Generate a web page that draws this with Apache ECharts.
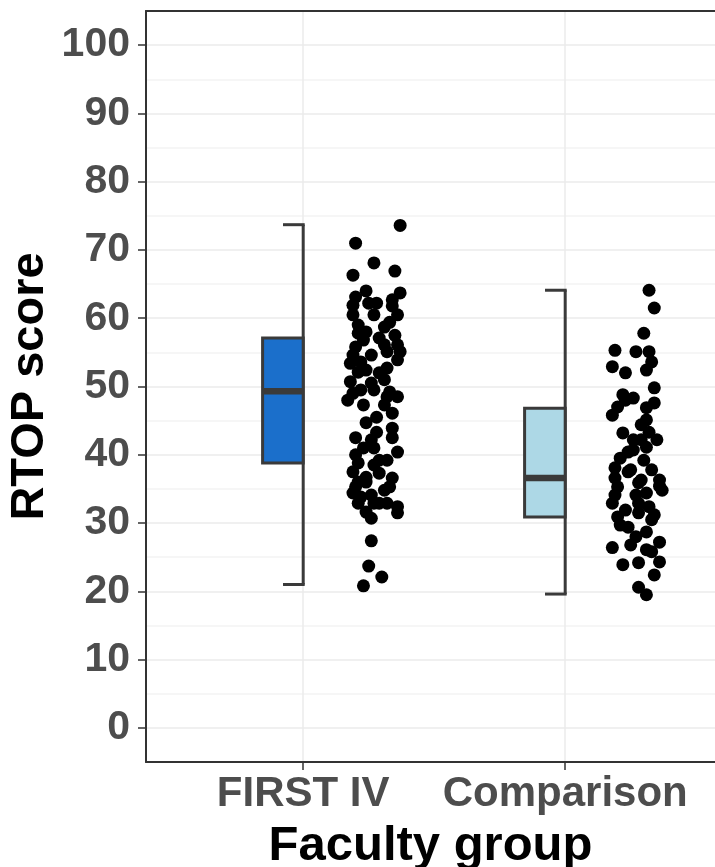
<!DOCTYPE html>
<html>
<head>
<meta charset="utf-8">
<script src="https://cdn.jsdelivr.net/npm/echarts@6/dist/echarts.min.js"></script>
<style>
  html, body { margin: 0; padding: 0; background: #fff; }
  #main { width: 715px; height: 867px; }
</style>
</head>
<body>
<div id="main"></div>
<script>
// groups on the x axis (positions 1 and 2)
const categories = ['FIRST IV', 'Comparison']

// half box + whisker stats per group
const whiskerLow = [21.0, 19.6]
const q1 = [38.8, 30.9]
const median = [49.3, 36.6]
const q3 = [57.1, 46.8]
const whiskerHigh = [73.7, 64.1]

// jittered points: x position and RTOP score
const firstIvX = [1.37, 1.20, 1.27, 1.19, 1.35, 1.20, 1.24, 1.28, 1.34, 1.37,
  1.19, 1.34, 1.19, 1.27, 1.36, 1.33, 1.21, 1.31, 1.21, 1.24,
  1.29, 1.36, 1.20, 1.37, 1.19, 1.22, 1.36, 1.18, 1.32, 1.21,
  1.29, 1.18, 1.26, 1.31, 1.22, 1.27, 1.33, 1.36, 1.19, 1.31,
  1.34, 1.28, 1.24, 1.34, 1.28, 1.20, 1.26, 1.34, 1.27, 1.36,
  1.20, 1.32, 1.21, 1.27, 1.19, 1.24, 1.29, 1.34, 1.20, 1.33,
  1.21, 1.24, 1.19, 1.26, 1.21, 1.29, 1.36, 1.24, 1.36, 1.26,
  1.26, 1.25, 1.30, 1.23, 1.23, 1.25, 1.31, 1.23, 1.32, 1.23,
  1.31, 1.22, 1.27, 1.32, 1.26, 1.24, 1.35, 1.32, 1.17, 1.29]
const firstIvScores = [73.6, 71.0, 68.1, 66.3, 66.9, 63.1, 64.0, 62.2, 62.7, 63.7,
  61.9, 61.8, 60.5, 60.5, 60.5, 59.4, 59.0, 58.7, 57.8, 58.0,
  57.1, 56.1, 55.8, 55.1, 54.6, 53.6, 53.9, 53.4, 52.7, 52.1,
  52.0, 50.7, 50.5, 51.0, 49.5, 49.5, 49.2, 48.5, 49.0, 47.3,
  46.1, 45.5, 44.7, 43.9, 43.3, 42.5, 42.2, 42.5, 41.0, 40.4,
  40.0, 39.2, 38.8, 38.5, 37.5, 36.7, 37.3, 36.6, 35.3, 35.3,
  36.0, 36.0, 34.4, 34.1, 32.9, 32.9, 32.4, 31.6, 31.5, 30.7,
  27.4, 23.7, 22.1, 20.8, 56.8, 62.2, 56.1, 47.3, 48.5, 41.0,
  34.8, 33.8, 32.9, 32.9, 54.6, 52.4, 57.5, 55.1, 48.0, 39.2]

const comparisonX = [2.32, 2.34, 2.30, 2.19, 2.27, 2.32, 2.33, 2.18, 2.23, 2.31,
  2.34, 2.22, 2.26, 2.20, 2.34, 2.31, 2.18, 2.31, 2.22, 2.32,
  2.26, 2.35, 2.31, 2.26, 2.24, 2.30, 2.19, 2.25, 2.33, 2.19,
  2.29, 2.36, 2.20, 2.28, 2.36, 2.19, 2.31, 2.37, 2.18, 2.28,
  2.32, 2.20, 2.28, 2.33, 2.24, 2.31, 2.27, 2.36, 2.18, 2.33,
  2.22, 2.28, 2.36, 2.34, 2.28, 2.31, 2.24, 2.23, 2.29, 2.21,
  2.27, 2.23, 2.31, 2.25, 2.29, 2.21, 2.34]
const comparisonScores = [64.1, 61.5, 57.8, 55.3, 55.1, 55.1, 53.6, 52.9, 52.0, 52.4,
  49.8, 48.8, 48.3, 47.0, 47.6, 46.9, 45.8, 45.1, 43.2, 43.3,
  42.2, 42.2, 41.1, 40.7, 40.4, 39.2, 38.1, 37.8, 37.8, 36.6,
  36.3, 36.3, 35.3, 35.9, 35.4, 34.1, 34.4, 34.8, 32.9, 32.9,
  32.4, 30.9, 31.5, 30.5, 29.4, 28.7, 28.0, 27.2, 26.4, 25.8,
  23.9, 24.2, 24.3, 22.4, 20.6, 19.5, 37.5, 48.0, 44.4, 39.5,
  34.1, 31.9, 26.1, 26.8, 42.2, 29.7, 31.2]

const boxColors = ['#1b6fcb', '#add8e6']
const font = 'Liberation Sans, Arial, sans-serif'
const edge = '#333333'

// panel: left edge = 0.4 on x, 262px per group step; -5..105 on y
// (panel runs past the right edge of the picture, so it's clipped at 715)
const unitX = 262
const panel = { left: 146, top: 11, width: 569, height: 751 }
const xMin = 0.4
const xMax = xMin + panel.width / unitX
const pxPerUnit = panel.height / 110

function renderBox (params, api) {
  const c = api.value(0)
  const xl = api.coord([c - 0.155, 0])[0]
  const xr = api.coord([c, 0])[0]
  const capX = api.coord([c - 0.077, 0])[0]
  const yLo = api.coord([c, api.value(1)])[1]
  const yQ1 = api.coord([c, api.value(2)])[1]
  const yMed = api.coord([c, api.value(3)])[1]
  const yQ3 = api.coord([c, api.value(4)])[1]
  const yHi = api.coord([c, api.value(5)])[1]
  const stroke = '#3a3a3a'
  return {
    type: 'group',
    children: [
      { type: 'line', shape: { x1: xr, y1: yHi, x2: xr, y2: yLo }, style: { stroke: stroke, lineWidth: 3 } },
      { type: 'line', shape: { x1: capX, y1: yHi, x2: xr + 1.5, y2: yHi }, style: { stroke: stroke, lineWidth: 3 } },
      { type: 'line', shape: { x1: capX, y1: yLo, x2: xr + 1.5, y2: yLo }, style: { stroke: stroke, lineWidth: 3 } },
      { type: 'rect', shape: { x: xl, y: yQ3, width: xr - xl, height: yQ1 - yQ3 },
        style: { fill: boxColors[params.dataIndex], stroke: stroke, lineWidth: 3 } },
      { type: 'line', shape: { x1: xl, y1: yMed, x2: xr, y2: yMed }, style: { stroke: stroke, lineWidth: 6.5 } }
    ]
  }
}

const chart = echarts.init(document.getElementById('main'))
const option = {
  animation: false,
  backgroundColor: '#fff',
  grid: [
    // main panel
    { left: panel.left, top: panel.top, width: panel.width, height: panel.height, outerBoundsMode: 'none' },
    // y labels 0..100
    { left: panel.left, top: panel.top + 5 * pxPerUnit, width: panel.width, height: 100 * pxPerUnit, outerBoundsMode: 'none' },
    // x labels + vertical grid at 1 and 2
    { left: panel.left + (1 - xMin) * unitX, top: panel.top, width: unitX, height: panel.height, outerBoundsMode: 'none' }
  ],
  xAxis: [
    { gridIndex: 0, type: 'value', min: xMin, max: xMax, position: 'bottom',
      axisLine: { show: true, onZero: false, lineStyle: { color: edge, width: 2 } },
      axisTick: { show: false }, axisLabel: { show: false }, splitLine: { show: false },
      name: 'Faculty group', nameLocation: 'middle', nameGap: 60,
      nameTextStyle: { fontFamily: font, fontSize: 49, fontWeight: 'bold', color: '#000' } },
    { gridIndex: 1, type: 'value', min: 0, max: 1, show: false },
    { gridIndex: 2, type: 'value', min: 1, max: 2, interval: 1,
      axisLine: { show: false },
      axisTick: { show: true, length: 8, lineStyle: { color: edge, width: 1.5 } },
      axisLabel: { margin: 11, fontFamily: font, fontSize: 42, fontWeight: 'bold', color: '#4d4d4d',
        formatter: v => categories[Math.round(v) - 1] || '' },
      splitLine: { show: true, lineStyle: { color: '#ebebeb', width: 1.5 } } },
    // top border of the panel
    { gridIndex: 0, type: 'value', min: xMin, max: xMax, position: 'top',
      axisLine: { show: true, onZero: false, lineStyle: { color: edge, width: 2 } },
      axisTick: { show: false }, axisLabel: { show: false }, splitLine: { show: false } }
  ],
  yAxis: [
    { gridIndex: 0, type: 'value', min: -5, max: 105, interval: 5,
      axisLine: { show: true, onZero: false, lineStyle: { color: edge, width: 2 } },
      axisTick: { show: false }, axisLabel: { show: false },
      splitLine: { show: true, lineStyle: { color: ['#f3f3f3', '#ebebeb'], width: 1.5 } },
      name: 'RTOP score', nameLocation: 'middle', nameGap: 92,
      nameTextStyle: { fontFamily: font, fontSize: 47, fontWeight: 'bold', color: '#000' } },
    { gridIndex: 1, type: 'value', min: 0, max: 100, interval: 10,
      axisLine: { show: false },
      axisTick: { show: true, length: 8, lineStyle: { color: edge, width: 1.5 } },
      axisLabel: { margin: 16, fontFamily: font, fontSize: 41, fontWeight: 'bold', color: '#4d4d4d' },
      splitLine: { show: false } },
    { gridIndex: 2, type: 'value', min: 0, max: 1, show: false }
  ],
  series: [
    { type: 'custom', xAxisIndex: 0, yAxisIndex: 0, renderItem: renderBox, z: 3,
      data: categories.map((c, i) => [i + 1, whiskerLow[i], q1[i], median[i], q3[i], whiskerHigh[i]]) },
    { type: 'scatter', xAxisIndex: 0, yAxisIndex: 0, symbolSize: 13, z: 4,
      itemStyle: { color: '#000', opacity: 1 },
      data: firstIvX.map((x, i) => [x, firstIvScores[i]]) },
    { type: 'scatter', xAxisIndex: 0, yAxisIndex: 0, symbolSize: 13, z: 4,
      itemStyle: { color: '#000', opacity: 1 },
      data: comparisonX.map((x, i) => [x, comparisonScores[i]]) }
  ]
}
chart.setOption(option)
</script>
</body>
</html>
